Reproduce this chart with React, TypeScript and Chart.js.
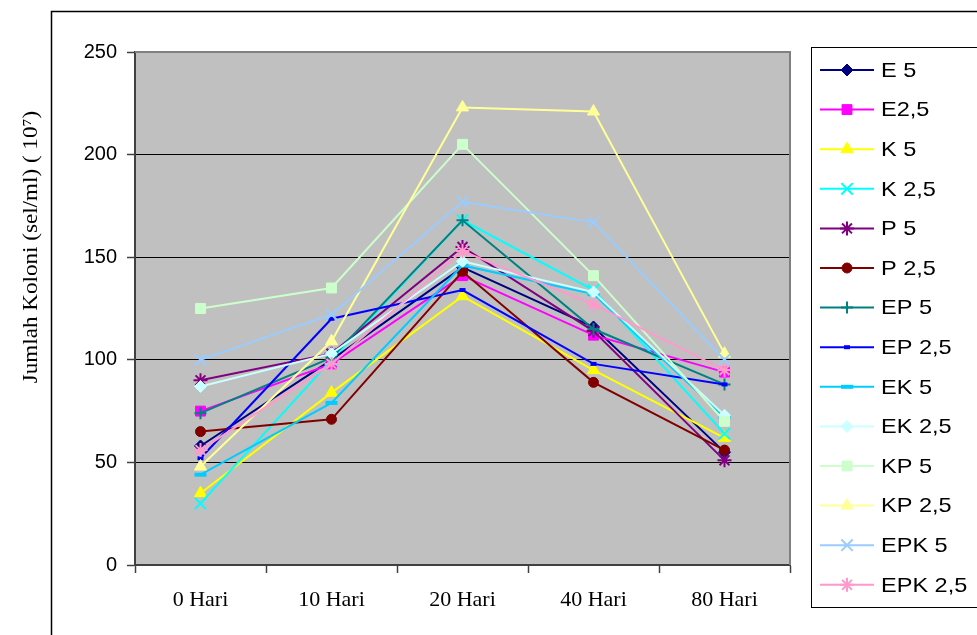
import React, { useEffect, useRef } from "react";
import { Chart, registerables } from "chart.js";
import { drawPoint } from "chart.js/helpers";

Chart.register(...registerables);

const categories = ["0 Hari", "10 Hari", "20 Hari", "40 Hari", "80 Hari"];
const seriesNames = ["E 5", "E2,5", "K 5", "K 2,5", "P 5", "P 2,5", "EP 5", "EP 2,5", "EK 5", "EK 2,5", "KP 5", "KP 2,5", "EPK 5", "EPK 2,5"];
const E5 = [58, 100, 145, 116, 55];
const E25 = [75, 98, 141, 112, 94];
const K5 = [35, 84, 131, 95, 62];
const K25 = [30, 100, 168, 134, 64];
const P5 = [90, 103, 155, 114, 51];
const P25 = [65, 71, 143, 89, 56];
const EP5 = [74, 101, 168, 115, 88];
const EP25 = [52, 120, 134, 98, 88];
const EK5 = [44, 79, 146, 132, 72];
const EK25 = [87, 103, 148, 133, 73];
const KP5 = [125, 135, 205, 141, 70];
const KP25 = [48, 109, 223, 221, 103];
const EPK5 = [100, 122, 177, 167, 100];
const EPK25 = [56, 98, 153, 127, 95];
const seriesValues = [E5, E25, K5, K25, P5, P25, EP5, EP25, EK5, EK25, KP5, KP25, EPK5, EPK25];
const yTicks = [0, 50, 100, 150, 200, 250];
const yTitle = "Jumlah Koloni (sel/ml) ( 10\u2077)";

const colors = ["#000080", "#FF00FF", "#FFFF00", "#00FFFF", "#800080", "#800000", "#008080", "#0000FF", "#00CCFF", "#CCFFFF", "#CCFFCC", "#FFFF99", "#99CCFF", "#FF99CC"];
const styles: any[] = [
  { s: "rectRot", r: 6, bw: 1 },
  { s: "rect", r: 7, bw: 1 },
  { s: "triangle", r: 7, bw: 1 },
  { s: "crossRot", r: 8, bw: 2 },
  { s: "star", r: 7, bw: 2 },
  { s: "circle", r: 5, bw: 1 },
  { s: "cross", r: 6, bw: 2 },
  { s: "line", r: 3, bw: 4 },
  { s: "line", r: 6, bw: 4 },
  { s: "rectRot", r: 6, bw: 1 },
  { s: "rect", r: 7, bw: 1 },
  { s: "triangle", r: 7, bw: 1 },
  { s: "crossRot", r: 8, bw: 2 },
  { s: "star", r: 7, bw: 2 },
];

const decorPlugin = {
  id: "decor",
  beforeDraw(chart: any) {
    const { ctx, chartArea: a } = chart;
    ctx.save();
    ctx.fillStyle = "#C0C0C0";
    ctx.fillRect(a.left, a.top, a.right - a.left, a.bottom - a.top);
    ctx.restore();
  },
  afterDraw(chart: any) {
    const { ctx, chartArea: a } = chart;
    ctx.save();
    ctx.strokeStyle = "#808080";
    ctx.lineWidth = 2;
    ctx.beginPath();
    ctx.moveTo(a.left, a.top);
    ctx.lineTo(a.right, a.top);
    ctx.lineTo(a.right, a.bottom);
    ctx.stroke();
    ctx.strokeStyle = "#000";
    ctx.lineWidth = 1.5;
    ctx.strokeRect(51.5, 11.5, 1000, 1000);
    ctx.fillStyle = "#000";
    ctx.font = "21px 'Liberation Serif', 'Times New Roman', serif";
    ctx.textAlign = "center";
    ctx.textBaseline = "middle";
    ctx.translate(31, 247);
    ctx.rotate(-Math.PI / 2);
    ctx.scale(1.1, 1);
    ctx.fillText(yTitle, 0, 0);
    ctx.restore();

    ctx.save();
    ctx.strokeStyle = "#000";
    ctx.lineWidth = 1;
    ctx.fillStyle = "#fff";
    ctx.fillRect(811.5, 47.5, 200, 560);
    ctx.strokeRect(811.5, 47.5, 200, 560);
    chart.data.datasets.forEach((ds: any, i: number) => {
      const y = 70 + i * 39.6;
      ctx.strokeStyle = ds.borderColor;
      ctx.lineWidth = 2;
      ctx.beginPath();
      ctx.moveTo(820, y);
      ctx.lineTo(874, y);
      ctx.stroke();
      ctx.fillStyle = ds.pointBackgroundColor;
      ctx.strokeStyle = ds.pointBorderColor;
      ctx.lineWidth = ds.pointBorderWidth;
      drawPoint(ctx, { pointStyle: ds.pointStyle, rotation: 0, radius: ds.pointRadius, borderWidth: ds.pointBorderWidth }, 847, y);
      ctx.save();
      ctx.fillStyle = "#000";
      ctx.font = "21px 'Liberation Sans', Arial, sans-serif";
      ctx.textAlign = "left";
      ctx.textBaseline = "middle";
      ctx.translate(881, y + 1);
      ctx.scale(1.12, 1);
      ctx.fillText(ds.label, 0, 0);
      ctx.restore();
    });
    ctx.restore();
  },
};

export default function App() {
  const ref = useRef<HTMLCanvasElement | null>(null);
  useEffect(() => {
    if (!ref.current) return;
    const n = seriesNames.length;
    const chart = new Chart(ref.current, {
      type: "line",
      data: {
        labels: categories,
        datasets: seriesNames.map((name, i) => ({
          label: name,
          data: seriesValues[i],
          borderColor: colors[i],
          backgroundColor: colors[i],
          pointBackgroundColor: colors[i],
          pointBorderColor: colors[i],
          pointStyle: styles[i].s,
          pointRadius: styles[i].r,
          pointBorderWidth: styles[i].bw,
          borderWidth: 2,
          tension: 0,
          fill: false,
          order: n - i,
        })),
      },
      options: {
        responsive: false,
        animation: false,
        devicePixelRatio: 1,
        layout: { padding: { top: 52, right: 187, left: 0, bottom: 0 } },
        plugins: { legend: { display: false }, tooltip: { enabled: false } },
        scales: {
          x: {
            offset: true,
            afterFit: (s: any) => { s.height = 70; },
            grid: { offset: true, drawOnChartArea: false, drawTicks: true, tickLength: 8, tickColor: "#404040", tickWidth: 1.5 },
            border: { color: "#404040", width: 2 },
            ticks: {
              color: "#000",
              padding: 14,
              font: { family: "'Liberation Serif', 'Times New Roman', serif", size: 22 },
              maxRotation: 0,
            },
          },
          y: {
            min: 0,
            max: 250,
            afterFit: (s: any) => { s.width = 135; },
            afterBuildTicks: (s: any) => { s.ticks = yTicks.map((v) => ({ value: v })); },
            grid: { color: "#000", lineWidth: 1, drawTicks: true, tickLength: 8, tickColor: "#404040", tickWidth: 1.5 },
            border: { color: "#404040", width: 2 },
            ticks: {
              color: "#000",
              padding: 10,
              font: { family: "'Liberation Sans', Arial, sans-serif", size: 20 },
            },
          },
        },
      },
      plugins: [decorPlugin],
    });
    return () => chart.destroy();
  }, []);
  return (
    <div style={{ position: "fixed", left: 0, top: 0, width: 977, height: 635, background: "#fff" }}>
      <canvas ref={ref} width={977} height={635} style={{ width: 977, height: 635, display: "block" }} />
    </div>
  );
}
